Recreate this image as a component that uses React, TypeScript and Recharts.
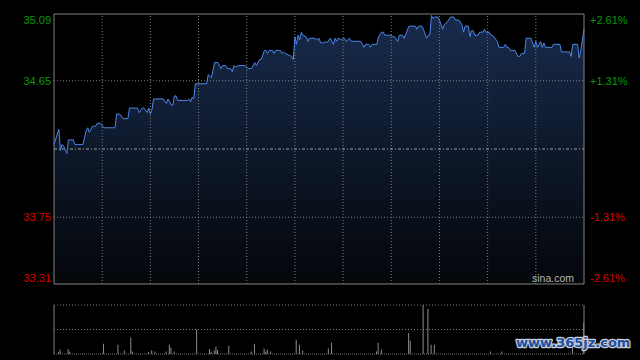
import React from 'react';
import { ComposedChart, Area, Line, XAxis, YAxis, ReferenceLine, ReferenceArea, BarChart, Bar } from 'recharts';

// minutes since open (HK session, lunch compressed: 0..330)
const times = [0,3,4,5,6,8,9,12,13,18,
20,21,22,24,26,27,29,31,38,39,
41,43,46,47,52,53,55,56,58,59,
60,61,62,68,70,71,73,74,75,76,
77,83,84,85,86,87,88,95,96,98,
100,102,104,105,107,108,110,111,112,113,
115,119,121,123,125,126,128,129,131,132,
133,134,136,137,138,141,142,143,144,146,
148,149,150,151,152,153,154,155,157,158,
159,162,164,165,166,168,169,170,172,174,
175,176,177,179,180,181,182,184,185,191,
193,194,196,197,198,201,202,204,205,206,
210,211,212,214,215,217,218,221,225,226,
227,229,230,232,233,234,235,236,237,239,
240,242,243,245,247,249,250,252,254,255,
256,258,259,260,261,262,264,265,267,268,
269,271,272,273,276,277,280,281,282,283,
284,287,289,290,291,293,294,297,298,299,
300,301,303,304,305,306,310,311,315,316,
321,322,323,326,327,328,330];

const prices = [34.23,34.33,34.19,34.23,34.22,34.17,34.26,34.26,34.23,34.23,
34.32,34.34,34.31,34.35,34.35,34.37,34.37,34.34,34.34,34.43,
34.43,34.40,34.40,34.47,34.47,34.44,34.47,34.47,34.44,34.47,
34.43,34.46,34.53,34.53,34.50,34.53,34.49,34.49,34.55,34.55,
34.52,34.52,34.53,34.51,34.54,34.53,34.63,34.63,34.69,34.67,
34.77,34.77,34.73,34.75,34.75,34.73,34.73,34.71,34.75,34.74,
34.75,34.75,34.73,34.73,34.77,34.75,34.79,34.79,34.85,34.85,
34.83,34.85,34.85,34.83,34.85,34.85,34.83,34.84,34.83,34.82,
34.81,34.79,34.94,34.89,34.95,34.92,34.97,34.95,34.94,34.91,
34.93,34.93,34.92,34.93,34.90,34.90,34.91,34.90,34.93,34.89,
34.93,34.91,34.93,34.92,34.93,34.93,34.91,34.93,34.91,34.91,
34.87,34.89,34.89,34.87,34.89,34.89,34.94,34.97,34.97,34.95,
34.95,34.94,34.94,34.91,34.95,34.95,34.93,35.01,35.01,34.99,
35.01,35.01,34.99,34.93,34.95,34.95,35.08,35.06,35.07,35.07,
35.05,34.99,35.02,35.04,35.07,35.07,35.05,35.05,35.02,34.97,
35.01,35.01,34.94,34.98,34.98,34.95,34.95,34.97,34.97,34.99,
34.97,34.97,34.95,34.95,34.91,34.87,34.87,34.89,34.87,34.87,
34.85,34.85,34.81,34.81,34.83,34.83,34.93,34.93,34.90,34.87,
34.91,34.87,34.91,34.87,34.90,34.87,34.87,34.89,34.89,34.84,
34.84,34.81,34.89,34.89,34.80,34.85,34.99];

const volTimes = [3,4,9,10,18,31,40,44,48,49,59,61,63,70,72,73,75,89,97,98,100,101,102,109,123,125,131,132,133,135,151,153,155,171,173,201,202,204,221,222,230,233,235,237,272,279,323,330];
const volValues = [4,9,10,5,2,21,19,7,33,5,4,7,5,5,19,13,5,50,10,5,7,15,8,17,5,21,11,5,9,5,29,19,7,11,23,5,23,9,43,27,100,92,19,19,5,5,20,64];

const prevClose = 34.2;
const priceDomain = [33.31, 35.09];
const priceTicks = [33.31, 33.75, 34.65, 35.09];
const pctDomain = [-2.61, 2.61];
const pctTicks = [-2.61, -1.31, 1.31, 2.61];
const gridPrices = [33.75, 34.65];
const gridTimes = [30, 60, 90, 120, 150, 180, 210, 240, 270, 300];
const sessionEnd = 330;
const volMax = 100;

const priceData = times.map((t, i) => ({ t, p: prices[i], pct: ((prices[i] - prevClose) / prevClose) * 100 }));
const volData = volTimes.map((t, i) => ({ t, v: volValues[i] }));

const GREEN = '#0a9a0a';
const RED = '#d80000';
const FONT = '"Liberation Sans", Arial, sans-serif';

const edgeShift = (v: number, ticks: number[]) =>
  v === ticks[ticks.length - 1] ? 6 : v === ticks[0] ? -6 : 0;

const PriceTick = (props: any) => {
  const { x, y, payload } = props;
  const v = payload.value as number;
  return (
    <text x={x} y={y + edgeShift(v, priceTicks)} dy="0.35em" textAnchor="end"
      fill={v > prevClose ? GREEN : RED} fontSize={11} fontFamily={FONT}>
      {v.toFixed(2)}
    </text>
  );
};

const PctTick = (props: any) => {
  const { x, y, payload } = props;
  const v = payload.value as number;
  return (
    <text x={x} y={y + edgeShift(v, pctTicks)} dy="0.35em" textAnchor="start"
      fill={v > 0 ? GREEN : RED} fontSize={11} fontFamily={FONT}>
      {(v > 0 ? '+' : '') + v.toFixed(2) + '%'}
    </text>
  );
};

export default function App() {
  return (
    <div style={{ position: 'absolute', left: 0, top: 0, width: 640, height: 360, background: '#000', overflow: 'hidden' }}>
      <div style={{ position: 'absolute', left: 0, top: 0 }}>
        <ComposedChart width={640} height={290} data={priceData} margin={{ top: 14, right: 0, bottom: 6, left: 0 }}>
          <defs>
            <linearGradient id="pfill" x1="0" y1="0" x2="0" y2="1">
              <stop offset="0%" stopColor="#182b4c" />
              <stop offset="100%" stopColor="#04060a" />
            </linearGradient>
          </defs>
          <XAxis dataKey="t" type="number" domain={[0, sessionEnd]} hide />
          <YAxis yAxisId="price" orientation="left" width={54} domain={priceDomain} ticks={priceTicks} interval={0}
            allowDataOverflow type="number" axisLine={false} tickLine={false} tickSize={0} tickMargin={3} tick={<PriceTick />} />
          <YAxis yAxisId="pct" orientation="right" width={56} domain={pctDomain} ticks={pctTicks} interval={0}
            allowDataOverflow type="number" axisLine={false} tickLine={false} tickSize={0} tickMargin={6} tick={<PctTick />} />
          <Area yAxisId="price" dataKey="p" type="linear" stroke="none" fill="url(#pfill)" fillOpacity={1}
            isAnimationActive={false} dot={false} activeDot={false} />
          {gridPrices.map((g) => (
            <ReferenceLine key={'h' + g} yAxisId="price" y={g} stroke="#7c7c7c" strokeDasharray="1 2" />
          ))}
          {gridTimes.map((g) => (
            <ReferenceLine key={'v' + g} yAxisId="price" x={g} stroke="#7c7c7c" strokeDasharray="1 2" />
          ))}
          <ReferenceLine yAxisId="price" y={prevClose} stroke="#9aa0aa" strokeDasharray="3 2 1 2" />
          <ReferenceArea yAxisId="price" x1={0} x2={sessionEnd} y1={priceDomain[0]} y2={priceDomain[1]}
            fill="none" stroke="#808080" strokeWidth={1} />
          <Line yAxisId="pct" dataKey="pct" type="linear" stroke="none" strokeWidth={0}
            dot={false} activeDot={false} isAnimationActive={false} />
          <Line yAxisId="price" dataKey="p" type="linear" stroke="#4a86e8" strokeWidth={1}
            dot={false} activeDot={false} isAnimationActive={false} />
        </ComposedChart>
      </div>
      <div style={{ position: 'absolute', left: 0, top: 290 }}>
        <BarChart width={640} height={70} data={volData} margin={{ top: 15, right: 56, bottom: 6, left: 54 }}>
          <XAxis dataKey="t" type="number" domain={[0, sessionEnd]} hide />
          <YAxis type="number" domain={[0, volMax]} hide />
          <ReferenceLine y={volMax} stroke="#7c7c7c" strokeDasharray="1 2" />
          <ReferenceLine y={volMax / 2} stroke="#7c7c7c" strokeDasharray="1 2" />
          <ReferenceLine y={0} stroke="#6c6c6c" strokeDasharray="1 1" />
          <ReferenceLine x={0} stroke="#808080" />
          <ReferenceLine x={sessionEnd} stroke="#808080" />
          <Bar dataKey="v" fill="#8c8c8c" barSize={1} isAnimationActive={false} />
        </BarChart>
      </div>
      <div style={{ position: 'absolute', left: 532, top: 272, color: '#b4b4b4', fontSize: 10.5, fontFamily: FONT, lineHeight: '12px' }}>
        sina.com
      </div>
      <svg width={640} height={360} style={{ position: 'absolute', left: 0, top: 0, pointerEvents: 'none' }}>
        <text x={516} y={347} fontFamily='"DejaVu Sans", sans-serif' fontWeight="bold" fontSize={13}
          fill="#1d4f9e" stroke="#c8cdd6" strokeWidth={2.5} paintOrder="stroke" strokeLinejoin="round">
          www.365jz.com
        </text>
      </svg>
    </div>
  );
}
